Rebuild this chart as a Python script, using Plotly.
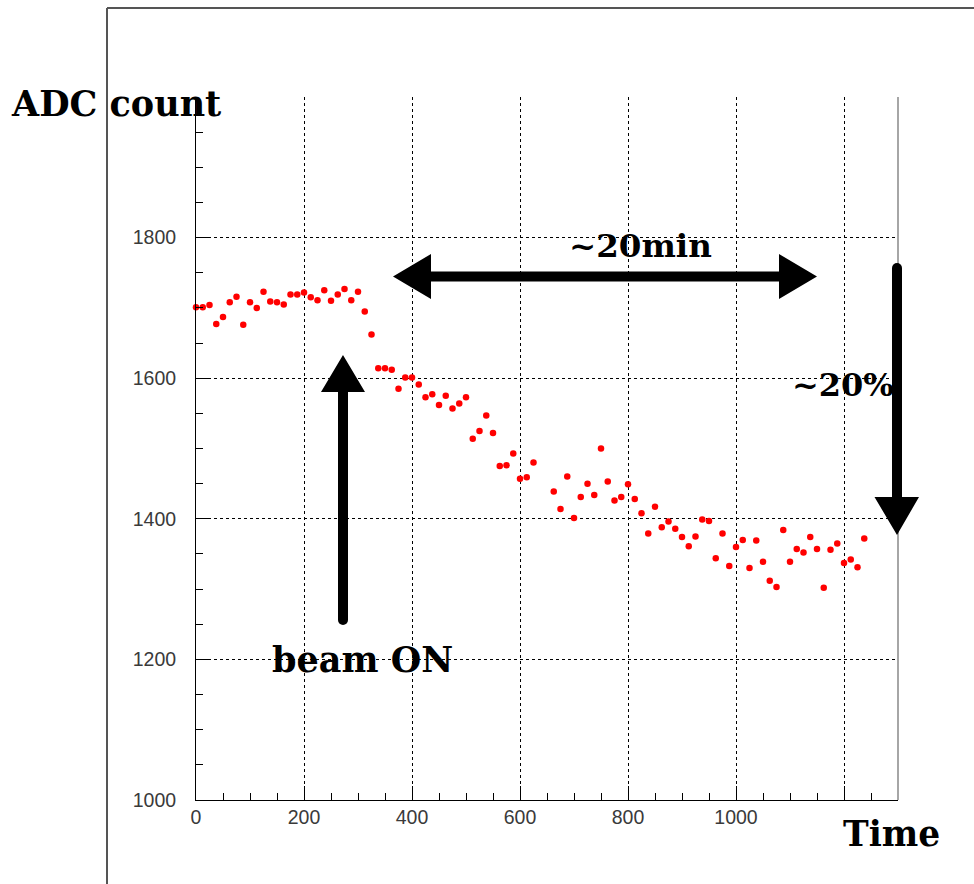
import plotly.graph_objects as go

# ---- data ----
time = [0, 12.5, 25, 37.5, 50, 62.5, 75, 87.5, 100, 112.5,
        125, 137.5, 150, 162.5, 175, 187.5, 200, 212.5, 225, 237.5,
        250, 262.5, 275, 287.5, 300, 312.5, 325, 337.5, 350, 362.5,
        375, 387.5, 400, 412.5, 425, 437.5, 450, 462.5, 475, 487.5,
        500, 512.5, 525, 537.5, 550, 562.5, 575, 587.5, 600, 612.5,
        625, 662.5, 675, 687.5, 700, 712.5, 725, 737.5, 750, 762.5,
        775, 787.5, 800, 812.5, 825, 837.5, 850, 862.5, 875, 887.5,
        900, 912.5, 925, 937.5, 950, 962.5, 975, 987.5, 1000, 1012.5,
        1025, 1037.5, 1050, 1062.5, 1075, 1087.5, 1100, 1112.5, 1125, 1137.5,
        1150, 1162.5, 1175, 1187.5, 1200, 1212.5, 1225, 1237.5]
adc = [1701, 1701, 1704, 1677, 1687, 1708, 1716, 1676, 1708, 1700,
       1723, 1709, 1708, 1705, 1719, 1719, 1722, 1715, 1711, 1725,
       1710, 1719, 1727, 1711, 1723, 1695, 1662, 1614, 1614, 1612,
       1585, 1601, 1601, 1591, 1573, 1577, 1562, 1575, 1557, 1564,
       1573, 1514, 1525, 1547, 1522, 1475, 1476, 1493, 1457, 1459,
       1480, 1439, 1414, 1460, 1401, 1431, 1450, 1434, 1500, 1453,
       1426, 1431, 1449, 1428, 1408, 1379, 1417, 1388, 1396, 1386,
       1374, 1361, 1375, 1399, 1397, 1344, 1379, 1333, 1360, 1370,
       1330, 1369, 1339, 1312, 1303, 1384, 1339, 1357, 1352, 1374,
       1357, 1302, 1356, 1365, 1337, 1342, 1331, 1372]

x_tickvals = [0, 200, 400, 600, 800, 1000, 1200]
x_ticktext = ["0", "200", "400", "600", "800", "1000", ""]
y_tickvals = [1000, 1200, 1400, 1600, 1800, 2000]
y_ticktext = ["1000", "1200", "1400", "1600", "1800", ""]

# ---- layout geometry (pixels) ----
W, H = 974, 884
L, R, T, B = 196, 898, 97, 800


def px(x):
    return (x - L) / (R - L)


def py(y):
    return (B - y) / (B - T)


def path(points):
    s = "M " + " L ".join(f"{px(a):.5f},{py(b):.5f}" for a, b in points) + " Z"
    return s


def circle(cx, cy, r):
    return dict(type="circle", xref="paper", yref="paper",
                x0=px(cx - r), x1=px(cx + r), y0=py(cy + r), y1=py(cy - r),
                fillcolor="black", line=dict(width=0), layer="above")


fig = go.Figure()
fig.add_trace(go.Scatter(x=time, y=adc, mode="markers",
                         marker=dict(color="#ff0000", size=6.5, line=dict(width=0)),
                         showlegend=False, cliponaxis=False))

tickfont = dict(family="Liberation Sans, Arial, sans-serif", size=19.5, color="#3a3a3a")
fig.update_xaxes(range=[0, 1300], tickmode="array", tickvals=x_tickvals, ticktext=x_ticktext,
                 showgrid=True, gridcolor="black", griddash="dot", gridwidth=1,
                 showline=True, linecolor="black", linewidth=1, zeroline=False,
                 ticks="inside", ticklen=14, tickcolor="black", tickfont=tickfont,
                 minor=dict(dtick=50, tick0=0, ticks="inside", ticklen=7, tickcolor="black", showgrid=False))
fig.update_yaxes(range=[1000, 2000], tickmode="array", tickvals=y_tickvals, ticktext=y_ticktext,
                 showgrid=True, gridcolor="black", griddash="dot", gridwidth=1,
                 showline=True, linecolor="black", linewidth=1, zeroline=False,
                 ticks="inside", ticklen=14, tickcolor="black", tickfont=tickfont,
                 ticklabelstandoff=15,
                 minor=dict(dtick=50, tick0=0, ticks="inside", ticklen=7, tickcolor="black", showgrid=False))

shapes = []
# right frame line
shapes.append(dict(type="line", xref="paper", yref="paper", x0=1, x1=1, y0=0, y1=1,
                   line=dict(color="#888888", width=1.5), layer="below"))
# outer pad frame
shapes.append(dict(type="line", xref="paper", yref="paper", x0=px(107), x1=px(107), y0=py(8), y1=py(884),
                   line=dict(color="#555555", width=2)))
shapes.append(dict(type="line", xref="paper", yref="paper", x0=px(107), x1=px(974), y0=py(8), y1=py(8),
                   line=dict(color="#555555", width=2)))
# up arrow (beam ON)
shapes.append(dict(type="path", xref="paper", yref="paper",
                   path=path([(338, 620), (338, 392), (321, 392), (343, 355), (365, 392), (348, 392), (348, 620)]),
                   fillcolor="black", line=dict(width=0), layer="above"))
shapes.append(circle(343, 620, 5))
# double arrow (~20min)
shapes.append(dict(type="path", xref="paper", yref="paper",
                   path=path([(393, 276.5), (431, 254), (431, 271.5), (779, 271.5), (779, 254), (817, 276.5),
                              (779, 299), (779, 281.5), (431, 281.5), (431, 299)]),
                   fillcolor="black", line=dict(width=0), layer="above"))
# down arrow (~20%)
shapes.append(dict(type="path", xref="paper", yref="paper",
                   path=path([(892, 268), (892, 497), (874.5, 497), (897, 535), (919, 497), (902, 497), (902, 268)]),
                   fillcolor="black", line=dict(width=0), layer="above"))
shapes.append(circle(897, 268, 5))

serif = "DejaVu Serif, Liberation Serif, serif"


def label(text, cx, cy, size):
    return dict(text=f"<b>{text}</b>", xref="paper", yref="paper", x=px(cx), y=py(cy),
                xanchor="center", yanchor="middle", showarrow=False,
                font=dict(family=serif, size=size, color="black"))


annotations = [
    label("ADC count", 116, 104, 35),
    label("Time", 891, 834, 34.5),
    label("~20min", 640, 245, 32.5),
    label("~20%", 843, 385, 32),
    label("beam ON", 362, 659, 35),
]

fig.update_layout(width=W, height=H, margin=dict(l=L, r=W - R, t=T, b=H - B),
                  paper_bgcolor="white", plot_bgcolor="white",
                  shapes=shapes, annotations=annotations)

fig.write_html("out.html")
